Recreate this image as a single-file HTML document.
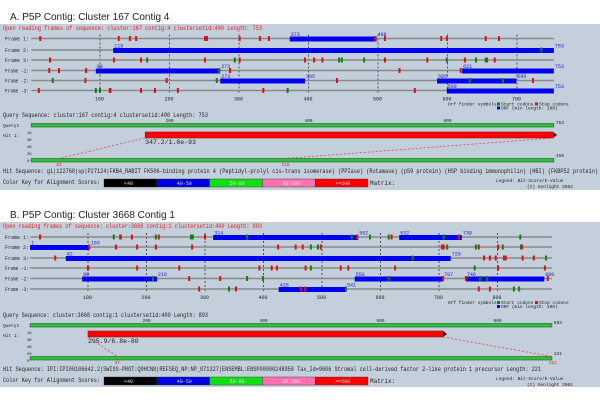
<!DOCTYPE html>
<html><head><meta charset="utf-8"><style>
body{margin:0;background:#fff;width:600px;height:400px;overflow:hidden}
svg{display:block}
</style></head><body>
<svg id="s" width="600" height="400" xmlns="http://www.w3.org/2000/svg">
<text x="10" y="20" font-family="Liberation Sans, sans-serif" font-size="10" fill="#222">A. P5P Contig: Cluster 167 Contig 4</text>
<text x="10" y="218" font-family="Liberation Sans, sans-serif" font-size="10" fill="#222">B. P5P Contig: Cluster 3668 Contig 1</text>
</svg>
<script>
const frameNames = ["Frame 1:","Frame 2:","Frame 3:","Frame -1:","Frame -2:","Frame -3:"];
// Panel A data (sequence positions)
const aLength = 753;
const aTicks = [100,200,300,400,500,600,700];
const aOrfs = [[[373,498]],[[119,753]],[],[[94,273],[621,753]],[[273,395],[585,699]],[[599,753]]];
const aStops = [[14,127,143,152,251,254,301,330,343,496,510,591,599,655,674],[],[28,120,159,251,301,395,408,420,510,571,625,657,668],[27,41,80,287,531,619],[79,196,441,723],[12,114,115,159,179,212,335,553]];
const aStarts = [[],[735],[168,294,444,448,480,599,641,655],[271],[32,268,680,632],[94,100,370]];
const aHit = {qStart:165, qEnd:752, hStart:24, hEnd:218, hLen:450, score:"347.2/1.6e-93"};
// Panel B data
const bLength = 893;
const bTicks = [100,200,300,400,500,600,700,800];
const bOrfs = [[[314,562],[632,739]],[[1,103]],[[62,720]],[],[[90,218],[556,707],[746,880]],[[426,541]]];
const bStops = [[18,155,156,175,221,300,560,619,734],[102,148,184,216,278,425,455,467,498,705,708,768,801,842],[44,777,787,797,811,814,843,862],[100,184,256,393,414,423,472,532,545,625,801,881],[273,326,707,746,886],[290,353,464,471,768,787]];
const bStarts = [[144,216,276,279,372,551,582,614,708,839],[481,493,714,763,809,840],[655,883],[481,761],[211,372,399,614,770,782],[341,541,828,837]];
const bHit = {qStart:100, qEnd:707, hStart:37, hEnd:221, hLen:221, score:"295.9/6.8e-80"};

const NS="http://www.w3.org/2000/svg";
const svg=document.getElementById('s');
function el(tag,attrs,parent){const e=document.createElementNS(NS,tag);for(const k in attrs)e.setAttribute(k,attrs[k]);(parent||svg).appendChild(e);return e;}
function txt(x,y,s,size,fill,len,parent){const t=el('text',{x:x,y:y,'font-family':'Liberation Mono, monospace','font-size':size,fill:fill},parent);if(len){t.setAttribute('textLength',len);t.setAttribute('lengthAdjust','spacingAndGlyphs');}t.textContent=s;return t;}

function panel(P){
  const g=el('g',{});
  
  
  const bg=el('rect',{x:0,y:P.top,width:600,height:P.h,fill:'#c3d0dc'},g);
  
  
  const X=v=>P.x0+v*P.k;
  const t1=txt(3,P.top+6,P.orfTitle,6.5,'#e02020',259,g);
  
  
  const rows=P.rows;
  const yTop=rows[0]-4,yBot=rows[5]+4;
  P.ticks.forEach(tk=>{
    const l=el('line',{x1:X(tk),x2:X(tk),y1:yTop,y2:yBot,stroke:'#333','stroke-width':0.8,'stroke-dasharray':'2,2'},g);
    
    
    const tl=txt(X(tk)-5,yBot+6,String(tk),5,'#222',0,g);
    
    
  });
  rows.forEach((y,i)=>{
    const lb=txt(5,y+2,frameNames[i],5,'#222',24,g);
    
    
    const ln=el('line',{x1:X(1),x2:X(P.len),y1:y,y2:y,stroke:'#888','stroke-width':1.5},g);
    
    
    P.orfs[i].forEach(o=>{
      const r=el('rect',{x:X(o[0]),y:y-2,width:X(o[1])-X(o[0]),height:5,fill:'#0000f0'},g);
      
      
      const a=txt(X(o[0])+1,y-2.5,String(o[0]),5,'#2020c0',0,g);
      
      
      const b=txt(X(o[1])+1,y-2.5,String(o[1]),5,'#2020c0',0,g);
      
      
    });
    P.stops[i].forEach(v=>{
      const m=el('rect',{x:X(v)-1,y:y-2.5,width:2,height:5,fill:'#e01010'},g);
      
      
    });
    P.starts[i].forEach(v=>{
      const m=el('rect',{x:X(v)-1,y:y-2.5,width:2,height:5,fill:'#108010'},g);
      
      
    });
  });
  const lg=txt(448,yBot+11,'Orf finder symbols:',4.5,'#222',0,g);
  
  
  el('rect',{x:497,y:yBot+8,width:3,height:3,fill:'#108010'},g);
  txt(501,yBot+11,'Start codons',4.5,'#222',0,g);
  el('rect',{x:535,y:yBot+8,width:3,height:3,fill:'#e01010'},g);
  txt(539,yBot+11,'Stop codons',4.5,'#222',0,g);
  el('rect',{x:497,y:yBot+12,width:3,height:3,fill:'#0000f0'},g);
  txt(501,yBot+15,'ORF (min length: 100)',4.5,'#222',0,g);
  const q=P.qy, H=P.hit;
  const qt=txt(3,q-8,P.queryTitle,6,'#222',205,g);
  
  
  txt(3,q+2,'Query1',4.5,'#222',0,g);
  txt(3,q+12,'Hit 1:',4.5,'#222',0,g);
  ['1K','3K','4K','2K','0'].forEach((s,i)=>txt(27,q+9+i*7,s,4,'#222',0,g));
  const qb=el('rect',{x:X(1),y:q-1.5,width:X(P.len)-X(1),height:3.5,fill:'#30c040',stroke:'#206020','stroke-width':0.6},g);
  
  
  [200,400,600,800].filter(v=>v<P.len).forEach(v=>txt(X(v)-4,q-3,String(v),4.5,'#222',0,g));
  txt(X(P.len)+2,q-1,String(P.len),4.5,'#222',0,g);
  const hy=q+P.hitOff;
  const hb=el('rect',{x:X(H.qStart),y:hy-3,width:X(H.qEnd)-X(H.qStart),height:6,fill:'#ff0000',stroke:'#802020','stroke-width':0.6},g);
  
  
  el('polygon',{points:`${X(H.qEnd)},${hy-3} ${X(H.qEnd)+4},${hy} ${X(H.qEnd)},${hy+3}`,fill:'#222'},g);
  const sc=txt(X(H.qStart),hy+9,H.score,6.5,'#222',0,g);
  
  
  const by=q+P.botOff;
  const bb=el('rect',{x:X(1),y:by-1.5,width:X(P.len)-X(1),height:3.5,fill:'#30c040',stroke:'#206020','stroke-width':0.6},g);
  
  
  const sX=v=>X(1)+(v/H.hLen)*(X(P.len)-X(1));
  [[H.qStart,H.hStart],[H.qEnd,H.hEnd]].forEach(p=>{
    const d=el('line',{x1:X(p[0]),y1:hy+3,x2:sX(p[1]),y2:by-1.5,stroke:'#e04050','stroke-width':0.8,'stroke-dasharray':'2,2'},g);
    
    
    txt(sX(p[1])-3,by+6,String(p[1]),4.5,'#e02020',0,g);
  });
  txt(X(P.len)+2,by-3,String(H.hLen),4.5,'#222',0,g);
  const hs=txt(3,by+13,P.hitTitle,6,'#222',P.hitW,g);
  
  
  const ky=by+24;
  txt(3,ky,'Color Key for Alignment Scores:',6,'#222',97,g);
  const keys=[['<40','#000'],['40-50','#0000e0'],['50-80','#10e010'],['80-200','#ff70b0'],['>=200','#ff0000']];
  keys.forEach((kk,i)=>{
    const r=el('rect',{x:104+i*52.8,y:ky-5,width:52.8,height:8,fill:kk[1],stroke:'#333','stroke-width':0.4},g);
    
    
    txt(104+i*52.8+20,ky+1,kk[0],5,'#ddd',0,g);
  });
  txt(370,ky+1,'Matrix:',6,'#222',0,g);
  txt(496,ky-2,'Legend: Bit-Score/E-Value',4.5,'#222',0,g);
  txt(527,ky+4,'(C) Genlight 2002',4.5,'#222',0,g);
}
panel({name:'panel-a',top:24,h:166,x0:30.5,k:0.695,len:aLength,ticks:aTicks,rows:[38.5,50,60,70.5,80.5,90.5],
  orfs:aOrfs,stops:aStops,starts:aStarts,hit:aHit,qy:125,hitOff:10,botOff:35,hitW:595,
  orfTitle:'Open reading frames of sequence: cluster:167 contig:4 clustersetid:400 Length: 753',
  queryTitle:'Query Sequence: cluster:167 contig:4 clustersetid:400 Length: 753',
  hitTitle:'Hit Sequence: gi|122768|sp|P27124|FKB4_RABIT FK506-binding protein 4 (Peptidyl-prolyl cis-trans isomerase) (PPIase) (Rotamase) (p59 protein) (HSP binding immunophilin) (HBI) (FKBP52 protein)'});
panel({name:'panel-b',top:222,h:165,x0:29.5,k:0.585,len:bLength,ticks:bTicks,rows:[237,247,258,268,278.5,289],
  orfs:bOrfs,stops:bStops,starts:bStarts,hit:bHit,qy:325,hitOff:9,botOff:33,hitW:538,
  orfTitle:'Open reading frames of sequence: cluster:3668 contig:1 clustersetid:400 Length: 893',
  queryTitle:'Query Sequence: cluster:3668 contig:1 clustersetid:400 Length: 893',
  hitTitle:'Hit Sequence: IPI:IPI00106642.2|SWISS-PROT:Q9HCN8|REFSEQ_NP:NP_071327|ENSEMBL:ENSP00000248958 Tax_Id=9606 Stromal cell-derived factor 2-like protein 1 precursor Length: 221'});
</script>
</body></html>
